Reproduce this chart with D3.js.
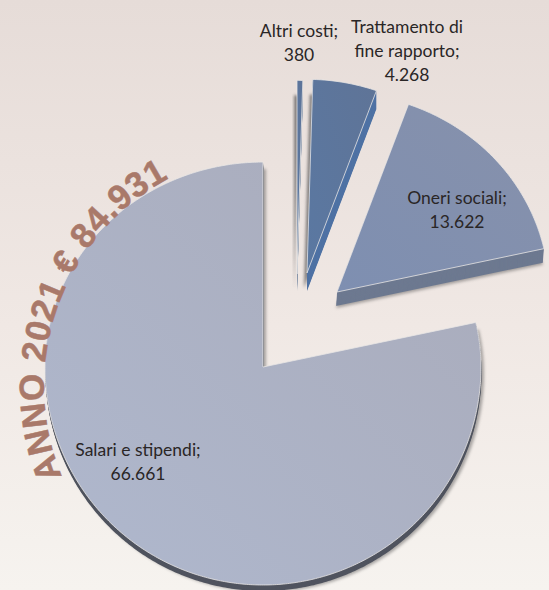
<!DOCTYPE html>
<html>
<head>
<meta charset="utf-8">
<script src="https://cdn.jsdelivr.net/npm/d3@7"></script>
<style>
  html, body { margin: 0; padding: 0; background: #f0e8e4; }
  svg { display: block; }
</style>
</head>
<body>
<svg id="chart" width="549" height="590"></svg>
<script>
// Personnel cost breakdown, year 2021
const categories = ["Altri costi", "Trattamento di fine rapporto", "Oneri sociali", "Salari e stipendi"];
const values = [380, 4268, 13622, 66661];
const labelLines = [
  ["Altri costi;", "380"],
  ["Trattamento di", "fine rapporto;", "4.268"],
  ["Oneri sociali;", "13.622"],
  ["Salari e stipendi;", "66.661"]
];
const titleText = "ANNO 2021 € 84.931";

const width = 549, height = 590;
const svg = d3.select("#chart");
const defs = svg.append("defs");

// Per-slice geometry and finish, in slice order
const apex = [[297, 274], [307, 273], [337, 292], [263, 367]];
const radius = [206, 206, 212, 218];
const depth = [[0, 18], [0, 18], [-1, 14], [0.5, 6]];
const shadowShift = [[-3, 15], [-3, 15], [-1, 16], [3, 7]];
const shadowOpacity = [0.75, 0.75, 0.5, 0.5];
const faceStops = [
  ["#5d7398", "#5a78a2"],
  ["#5f7497", "#5a78a2"],
  ["#8791ab", "#7e8fb1"],
  ["#a9abba", "#afb8ce"]
];
const sideColor = ["#8b97ab", "#4f72a4", "#6d7990", "#50545f"];
const labelAnchor = [[299, 37], [407, 33], [457, 204], [138, 456]];
const lineStep = 24;

// Page backdrop
const bg = defs.append("linearGradient").attr("id", "backdrop")
  .attr("x1", 0).attr("y1", 0).attr("x2", 0).attr("y2", 1);
bg.append("stop").attr("offset", 0).attr("stop-color", "#e6dcd8");
bg.append("stop").attr("offset", 0.55).attr("stop-color", "#f0e8e4");
bg.append("stop").attr("offset", 1).attr("stop-color", "#f6f3ef");
svg.append("rect").attr("width", width).attr("height", height).attr("fill", "url(#backdrop)");

defs.append("filter").attr("id", "soft").attr("x", "-30%").attr("y", "-30%")
  .attr("width", "160%").attr("height", "160%")
  .append("feGaussianBlur").attr("stdDeviation", 1.6);

faceStops.forEach((stops, i) => {
  const g = defs.append("linearGradient").attr("id", "face" + i)
    .attr("x1", 1).attr("y1", 0).attr("x2", 0).attr("y2", 1);
  g.append("stop").attr("offset", 0).attr("stop-color", stops[0]);
  g.append("stop").attr("offset", 1).attr("stop-color", stops[1]);
});

// Slices run clockwise from twelve o'clock, in the order of the data
const slices = d3.pie().sort(null)(values);

// The far half of the disc is foreshortened by the tilt of the pie
const foreshorten = 0.94;
function project(angle, r) {
  const c = Math.cos(angle);
  return [r * Math.sin(angle), -r * c * (c > 0 ? foreshorten : 1)];
}

const outline = d3.line().curve(d3.curveLinear);
function slicePath(d, i) {
  const steps = Math.max(2, Math.ceil((d.endAngle - d.startAngle) / 0.01));
  const rim = d3.range(steps + 1).map(k =>
    project(d.startAngle + (d.endAngle - d.startAngle) * k / steps, radius[i]));
  return outline([[0, 0], ...rim]) + "Z";
}

// Largest slice first so the exploded wedges sit on top
const order = [3, 2, 1, 0];
const layers = svg.selectAll("g.slice").data(order.map(i => ({ i, d: slices[i] })))
  .join("g").attr("class", "slice")
  .attr("transform", s => `translate(${apex[s.i][0]},${apex[s.i][1]})`);

layers.append("path").attr("class", "shadow")
  .attr("d", s => slicePath(s.d, s.i))
  .attr("transform", s => `translate(${shadowShift[s.i][0]},${shadowShift[s.i][1]})`)
  .attr("fill", "#5c5a5a").attr("opacity", s => shadowOpacity[s.i]).attr("filter", "url(#soft)");

// Wall of the slice: the outline swept down over its depth
layers.each(function (s) {
  const g = d3.select(this);
  const n = depth[s.i][1];
  d3.range(n, 0, -1).forEach(k => {
    g.append("path").attr("d", slicePath(s.d, s.i))
      .attr("transform", `translate(${depth[s.i][0] * k / n},${k})`)
      .attr("fill", sideColor[s.i]);
  });
});

layers.append("path").attr("class", "face")
  .attr("d", s => slicePath(s.d, s.i))
  .attr("fill", s => `url(#face${s.i})`)
  .attr("stroke", "#e9e6e4").attr("stroke-width", 0.8).attr("stroke-linejoin", "round");

// Curved caption following the upper left edge of the pie
const titleCx = 279, titleCy = 386, titleR = 235;
const titleFrom = 157.4 * Math.PI / 180, titleTo = 250 * Math.PI / 180;
const titleArc = d3.path();
titleArc.arc(titleCx, titleCy, titleR, titleFrom, titleTo);
defs.append("path").attr("id", "titlePath").attr("d", titleArc.toString());
svg.append("text")
  .attr("font-family", "'Liberation Sans', Arial, sans-serif")
  .attr("font-weight", 700).attr("font-size", 35).attr("fill", "#a9796a")
  .attr("stroke", "#a9796a").attr("stroke-width", 0.5)
  .attr("letter-spacing", 0.6)
  .append("textPath").attr("href", "#titlePath")
  .text(titleText);

// Slice labels
const labels = svg.selectAll("text.label").data(labelLines).join("text")
  .attr("class", "label")
  .attr("text-anchor", "middle")
  .attr("font-family", "Lato, 'Open Sans', sans-serif")
  .attr("font-size", 17.5).attr("fill", "#2a2626");
labels.selectAll("tspan").data((lines, i) => lines.map((t, k) => ({ t, k, i }))).join("tspan")
  .attr("x", l => labelAnchor[l.i][0])
  .attr("y", l => labelAnchor[l.i][1] + l.k * lineStep)
  .text(l => l.t);
</script>
</body>
</html>
